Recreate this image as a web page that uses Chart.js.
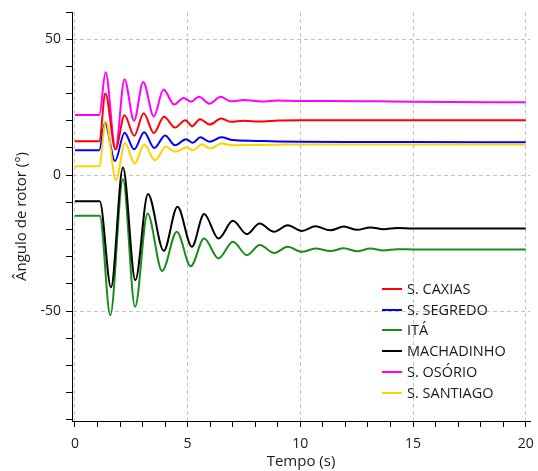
<!DOCTYPE html>
<html>
<head>
<meta charset="utf-8">
<script src="https://cdn.jsdelivr.net/npm/chart.js@4.4.1/dist/chart.umd.min.js"></script>
<style>
  html, body { margin: 0; padding: 0; background: #ffffff; }
  canvas { display: block; }
</style>
</head>
<body>
<canvas id="c" width="538" height="471"></canvas>
<script>
// ---- data ----
const seriesNames = ["S. CAXIAS", "S. SEGREDO", "ITÁ", "MACHADINHO", "S. OSÓRIO", "S. SANTIAGO"];

const tCaxias = [0, 1.08, 1.35, 1.8, 2.2, 2.63, 3.05, 3.5, 3.95, 4.44, 4.9, 5.2, 5.55, 5.97, 6.5, 6.9, 7.5, 8.2, 9, 10, 12, 15, 20];
const yCaxias = [12.5, 12.5, 30, 9.5, 22, 14.5, 22.8, 15.5, 21.5, 17.5, 20.2, 18, 20.6, 18.6, 20.8, 19.6, 20.0, 19.7, 20.1, 20.2, 20.2, 20.2, 20.2];

const tSegredo = [0, 1.08, 1.33, 1.78, 2.2, 2.63, 3.07, 3.52, 4.0, 4.44, 4.93, 5.23, 5.56, 5.97, 6.5, 7.0, 8, 9, 10, 12, 15, 20];
const ySegredo = [9.2, 9.2, 19.3, 5.2, 15.6, 9.5, 15.8, 10.0, 14.6, 11.0, 13.2, 11.9, 13.9, 12.3, 13.9, 12.9, 12.6, 12.4, 12.3, 12.2, 12.2, 12.1];

const tIta = [0, 1.1, 1.57, 2.13, 2.67, 3.22, 3.87, 4.52, 5.14, 5.73, 6.37, 7.01, 7.63, 8.2, 8.84, 9.44, 10.07, 10.67, 11.33, 11.93, 12.52, 13.1, 13.7, 14.3, 15, 17, 20];
const yIta = [-14.9, -14.9, -51.5, -1.5, -48.4, -14.1, -35.2, -20.8, -33.5, -23.3, -30.6, -24.5, -29.4, -25.7, -28.6, -26.3, -28.2, -27.0, -27.9, -26.9, -28.0, -27.0, -27.7, -27.2, -27.3, -27.3, -27.3];

const tMachadinho = [0, 1.1, 1.6, 2.13, 2.68, 3.24, 3.94, 4.55, 5.19, 5.73, 6.37, 7.01, 7.63, 8.19, 8.84, 9.44, 10.07, 10.67, 11.33, 11.93, 12.52, 13.1, 13.7, 14.3, 15, 17, 20];
const yMachadinho = [-9.6, -9.6, -41.3, 2.8, -38.6, -6.9, -27.8, -11.6, -26.3, -14.3, -23.3, -16.8, -21.7, -17.8, -20.8, -18.4, -20.5, -18.8, -20.3, -18.9, -20.1, -19.2, -19.9, -19.4, -19.6, -19.6, -19.6];

const tOsorio = [0, 1.08, 1.36, 1.8, 2.2, 2.62, 3.03, 3.5, 3.93, 4.4, 4.82, 5.15, 5.5, 5.97, 6.47, 6.9, 7.5, 8.3, 9, 10, 11.3, 15, 20];
const yOsorio = [22.1, 22.1, 37.8, 9.5, 35.3, 20, 34.3, 21.6, 31.5, 26, 28.4, 27, 28.8, 26.3, 28.8, 27.2, 27.6, 27.1, 27.5, 27.3, 27.3, 27.0, 26.8];

const tSantiago = [0, 1.08, 1.37, 1.82, 2.22, 2.65, 3.07, 3.55, 4.04, 4.44, 4.96, 5.26, 5.63, 6.0, 6.5, 7.0, 8, 9, 10, 12, 15, 20];
const ySantiago = [3.3, 3.3, 19.8, -1.8, 11.8, 4.2, 11.3, 5.5, 10.5, 8.6, 10.2, 9.2, 11.4, 9.8, 11.6, 11.0, 11.1, 11.2, 11.3, 11.3, 11.3, 11.3];

const xTickLabels = [0, 5, 10, 15, 20];
const yTickLabels = [50, 0, -50];

// ---- styles ----
const colors = ["#ff0000", "#0000ff", "#1a8c1a", "#000000", "#ff00ff", "#ffd200"];
const FONT = "'Open Sans', 'Noto Sans', sans-serif";

function pairs(ts, ys) { return ts.map((t, i) => ({ x: t, y: ys[i] })); }
const allT = [tCaxias, tSegredo, tIta, tMachadinho, tOsorio, tSantiago];
const allY = [yCaxias, ySegredo, yIta, yMachadinho, yOsorio, ySantiago];
const drawOrder = [2, 5, 1, 0, 4, 3];

const datasets = seriesNames.map((name, i) => ({
  label: name,
  data: pairs(allT[i], allY[i]),
  borderColor: colors[i],
  backgroundColor: colors[i],
  borderWidth: 2,
  pointRadius: 0,
  fill: false,
  cubicInterpolationMode: 'monotone',
  order: drawOrder[i]
}));

const legendPlugin = {
  id: 'inLegend',
  afterDraw(chart) {
    const ctx = chart.ctx;
    const xs = chart.scales.x, ys = chart.scales.y;
    const x0 = Math.round(xs.getPixelForValue(13.63));
    const y0 = ys.getPixelForValue(-41.7);
    const step = 20.95;
    ctx.save();
    ctx.font = "14.5px " + FONT;
    ctx.textBaseline = 'middle';
    ctx.textAlign = 'left';
    chart.data.datasets.forEach((ds, i) => {
      const y = Math.round(y0 + i * step);
      ctx.strokeStyle = ds.borderColor;
      ctx.lineWidth = 2;
      ctx.beginPath();
      ctx.moveTo(x0, y);
      ctx.lineTo(x0 + 20, y);
      ctx.stroke();
      ctx.fillStyle = '#1a1a1a';
      ctx.fillText(ds.label, x0 + 25, y + 0.5);
    });
    ctx.restore();
  }
};

const bgPlugin = {
  id: 'bg',
  beforeDraw(chart) {
    const c = chart.ctx;
    c.save(); c.fillStyle = '#ffffff'; c.fillRect(0, 0, chart.width, chart.height); c.restore();
  }
};

new Chart(document.getElementById('c'), {
  type: 'line',
  data: { datasets },
  plugins: [bgPlugin, legendPlugin],
  options: {
    responsive: false,
    animation: false,
    layout: { padding: { top: 12, right: 8, left: 0, bottom: 0 } },
    plugins: { legend: { display: false }, tooltip: { enabled: false } },
    scales: {
      x: {
        type: 'linear',
        min: -0.13,
        max: 20.19,
        afterFit: s => { s.height = 50; s.paddingLeft = 0; s.paddingRight = 0; },
        ticks: {
          stepSize: 1,
          includeBounds: false,
          autoSkip: false,
          maxRotation: 0,
          padding: 9,
          color: '#1a1a1a',
          font: { family: FONT, size: 14 },
          callback: v => xTickLabels.includes(v) ? String(Math.round(v)) : ''
        },
        grid: {
          color: c => (c.tick && xTickLabels.includes(c.tick.value)) ? '#c4c4c4' : 'rgba(0,0,0,0)',
          tickColor: '#000000',
          tickLength: 6,
          lineWidth: 1
        },
        border: { display: true, color: '#000000', width: 1, dash: [4, 3] },
        title: {
          display: true,
          text: 'Tempo (s)',
          color: '#1a1a1a',
          font: { family: FONT, size: 15 },
          padding: { top: 0, bottom: 0 }
        }
      },
      y: {
        type: 'linear',
        min: -90.4,
        max: 60,
        afterFit: s => { s.width = 72; s.paddingTop = 0; s.paddingBottom = 0; },
        ticks: {
          stepSize: 10,
          includeBounds: false,
          autoSkip: false,
          padding: 5,
          color: '#1a1a1a',
          font: { family: FONT, size: 14 },
          callback: v => yTickLabels.includes(v) ? String(v) : ''
        },
        grid: {
          color: c => (c.tick && yTickLabels.includes(c.tick.value)) ? '#c4c4c4' : 'rgba(0,0,0,0)',
          tickColor: '#000000',
          tickLength: 6,
          lineWidth: 1
        },
        border: { display: true, color: '#000000', width: 1, dash: [4, 3] },
        title: {
          display: true,
          text: 'Ângulo de rotor (°)',
          color: '#1a1a1a',
          font: { family: FONT, size: 15 },
          padding: { top: 13, bottom: 0 }
        }
      }
    }
  }
});
</script>
</body>
</html>
